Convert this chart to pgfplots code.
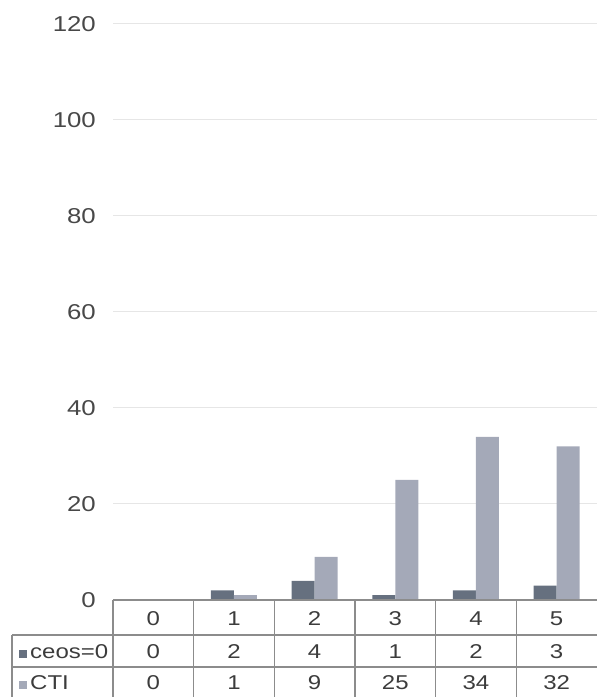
\documentclass[border=0pt]{standalone}
\usepackage{pgfplots}
\pgfplotsset{compat=1.18}
\usepackage{pgfplotstable}
\usepackage{fontspec}
\setmainfont{Liberation Sans}[FakeStretch=1.2]
\definecolor{cdark}{HTML}{66707F}
\definecolor{clight}{HTML}{A4A9B8}
\definecolor{cgrid}{HTML}{E6E6E6}
\definecolor{cline}{HTML}{8C8C8C}
\definecolor{ctext}{HTML}{3C3C3C}
\definecolor{ctick}{HTML}{484848}
\pgfplotstableread{
cat ceos cti
0 0 0
1 2 1
2 4 9
3 1 25
4 2 34
5 3 32
}\datatable
\begin{document}
\begin{tikzpicture}[x=1pt,y=1pt]
\path[use as bounding box] (0,0) rectangle (597,697);
\begin{axis}[
  at={(113pt,97pt)}, anchor=south west,
  scale only axis, width=484pt, height=576pt,
  xmin=-0.5, xmax=5.5, ymin=0, ymax=120,
  clip=false,
  axis line style={draw=none},
  xtick=\empty,
  ytick={0,20,...,120},
  ymajorgrids,
  grid style={cgrid, line width=1pt},
  major tick length=0pt,
  yticklabel style={font=\fontsize{21.5}{24}\selectfont, text=ctick, inner sep=0pt, anchor=east, xshift=-17pt},
  /pgf/number format/assume math mode=true,
  every node near coord/.append style={anchor=center, font=\fontsize{20}{24}\selectfont, text=ctext, inner sep=0pt},
]
\addplot[ybar, bar width=23pt, bar shift=-11.5pt, fill=cdark, draw=none] table[x=cat, y=ceos] {\datatable};
\addplot[ybar, bar width=23pt, bar shift=11.5pt, fill=clight, draw=none] table[x=cat, y=cti] {\datatable};
% table text rows
\addplot[draw=none, mark=none, nodes near coords, point meta=explicit symbolic, nodes near coords align={center}] table[x=cat, y expr=-3.85, meta=cat] {\datatable};
\addplot[draw=none, mark=none, nodes near coords, point meta=explicit symbolic, nodes near coords align={center}] table[x=cat, y expr=-10.7, meta=ceos] {\datatable};
\addplot[draw=none, mark=none, nodes near coords, point meta=explicit symbolic, nodes near coords align={center}] table[x=cat, y expr=-17.2, meta=cti] {\datatable};
% table lines
\draw[cline, line width=1.5pt] (axis cs:-0.5,0) -- (axis cs:5.5,0);
\draw[cline, line width=1.5pt] (axis cs:-1.752,-7.29) -- (axis cs:5.5,-7.29);
\draw[cline, line width=1.5pt] (axis cs:-1.752,-13.96) -- (axis cs:5.5,-13.96);
\draw[cline, line width=1.5pt] (axis cs:-0.5,0) -- (axis cs:-0.5,-21);
\draw[cline, line width=1.5pt] (axis cs:0.5,0) -- (axis cs:0.5,-21);
\draw[cline, line width=1.5pt] (axis cs:1.5,0) -- (axis cs:1.5,-21);
\draw[cline, line width=1.5pt] (axis cs:2.5,0) -- (axis cs:2.5,-21);
\draw[cline, line width=1.5pt] (axis cs:3.5,0) -- (axis cs:3.5,-21);
\draw[cline, line width=1.5pt] (axis cs:4.5,0) -- (axis cs:4.5,-21);
\draw[cline, line width=1.5pt] (axis cs:-1.752,-7.29) -- (axis cs:-1.752,-21);
% row headers
\node[anchor=west, inner sep=0pt, font=\fontsize{20}{24}\selectfont, text=ctext] at (axis cs:-1.752,-10.7) {\hspace{7pt}\textcolor{cdark}{\rule[0.5pt]{8pt}{8pt}}\hspace{3pt}ceos=0};
\node[anchor=west, inner sep=0pt, font=\fontsize{20}{24}\selectfont, text=ctext] at (axis cs:-1.752,-17.2) {\hspace{7pt}\textcolor{clight}{\rule[0.5pt]{8pt}{8pt}}\hspace{3pt}CTI};
\end{axis}
\end{tikzpicture}
\end{document}
